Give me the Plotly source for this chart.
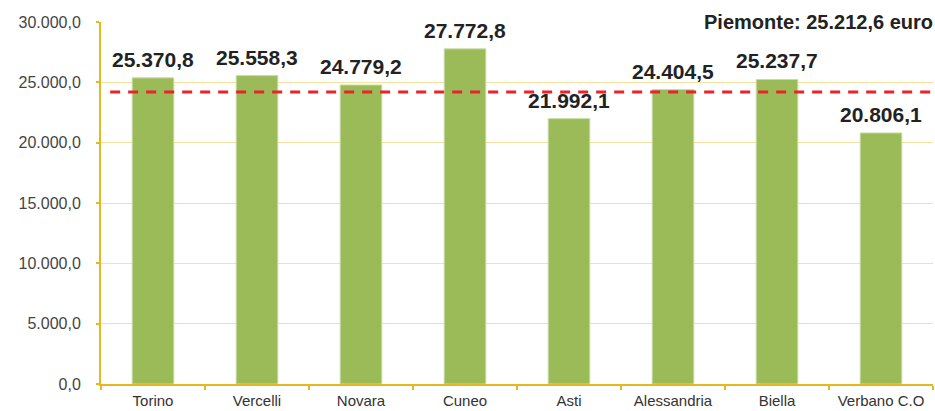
import plotly.graph_objects as go

provinces = ["Torino", "Vercelli", "Novara", "Cuneo", "Asti", "Alessandria", "Biella", "Verbano C.O"]
values = [25370.8, 25558.3, 24779.2, 27772.8, 21992.1, 24404.5, 25237.7, 20806.1]
value_labels = ["25.370,8", "25.558,3", "24.779,2", "27.772,8", "21.992,1", "24.404,5", "25.237,7", "20.806,1"]
y_ticks = [0, 5000, 10000, 15000, 20000, 25000, 30000]
y_tick_labels = ["0,0", "5.000,0", "10.000,0", "15.000,0", "20.000,0", "25.000,0", "30.000,0"]
piemonte_line = 24200
piemonte_label = "Piemonte: 25.212,6 euro"

FONT = "Liberation Sans"
GOLD = "#E6B820"

fig = go.Figure()
fig.add_trace(go.Bar(
    x=provinces, y=values, width=0.4,
    marker=dict(color="#9BBB59", line=dict(color="#C9DCA6", width=1)),
    hoverinfo="skip",
))

for p, v, t in zip(provinces, values, value_labels):
    fig.add_annotation(x=p, y=v, text="<b>%s</b>" % t, showarrow=False,
                       yanchor="bottom", yshift=5,
                       font=dict(family=FONT, size=21, color="#222222"))

fig.add_shape(type="line", xref="paper", yref="y", x0=0.011, x1=1.01,
              y0=piemonte_line, y1=piemonte_line,
              line=dict(color="#E8232A", width=3, dash="10px,8px"))

fig.add_annotation(xref="paper", yref="y", x=1.003, y=30000, text="<b>%s</b>" % piemonte_label,
                   showarrow=False, xanchor="right", yanchor="middle",
                   font=dict(family=FONT, size=20, color="#222222"))

fig.update_layout(
    width=935, height=411,
    margin=dict(l=101, r=2, t=22, b=27),
    plot_bgcolor="white", paper_bgcolor="white",
    showlegend=False, bargap=0.6,
    xaxis=dict(type="category", tickson="boundaries", ticks="outside", ticklen=4,
               tickcolor=GOLD, tickwidth=2, showline=True, linecolor=GOLD, linewidth=2,
               automargin=False, ticklabelstandoff=2,
               tickfont=dict(family=FONT, size=15, color="#333333"), showgrid=False),
    yaxis=dict(range=[0, 30000], tickvals=y_ticks, ticktext=y_tick_labels,
               ticks="outside", ticklen=3, tickcolor=GOLD, tickwidth=2,
               showline=True, linecolor=GOLD, linewidth=2,
               gridcolor="#F6E3A4", gridwidth=1, zeroline=False,
               automargin=False, ticklabelstandoff=12,
               tickfont=dict(family=FONT, size=16, color="#444444")),
)

fig.write_html("out.html", config={"displayModeBar": False},
               post_script="document.body.style.margin='0';document.body.style.padding='0';document.body.style.overflow='hidden';")
